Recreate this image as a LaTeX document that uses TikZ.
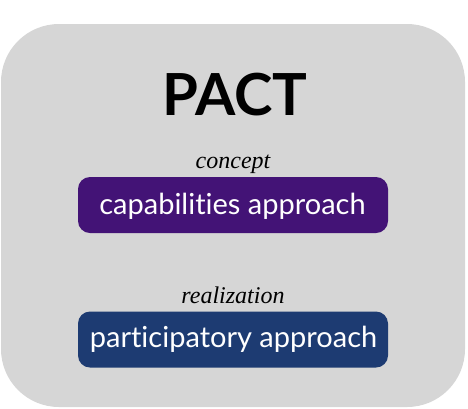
\documentclass[tikz,border=0pt]{standalone}
\usepackage{fontspec}
\setmainfont{Lato}[Ligatures=NoCommon]
\newfontfamily\labelserif{Liberation Serif}
\definecolor{panelgray}{HTML}{D6D6D6}
\definecolor{conceptpurple}{HTML}{431376}
\definecolor{realizeblue}{HTML}{1D3B72}
\tikzset{
  panel/.style={fill=panelgray, draw=none, rounded corners=58pt},
  pillbox/.style={draw=none, rounded corners=12pt, minimum width=310pt, minimum height=56pt, inner sep=0pt},
  pilltext/.style={text=white, font=\fontsize{29}{34}\selectfont, anchor=base, inner sep=0pt},
  caption/.style={font=\labelserif\itshape\fontsize{24}{28}\selectfont, anchor=base, inner sep=0pt},
}
\begin{document}
\begin{tikzpicture}[x=1pt,y=-1pt]
  \useasboundingbox (0,0) rectangle (468,408);
  \path[panel] (1,24) rectangle (465,407);
  \node[font=\bfseries\fontsize{58}{64}\selectfont, anchor=base, inner sep=0pt] (title) at (235,115) {PACT};
  \node[caption] (concept) at (233,168) {concept};
  \node[pillbox, fill=conceptpurple] (capbox) at (233,205) {};
  \node[pilltext] (captext) at (232.5,214) {capabilities approach};
  \node[caption] (realization) at (233,303) {realization};
  \node[pillbox, fill=realizeblue] (partbox) at (233,339.5) {};
  \node[pilltext] (parttext) at (233.5,347) {participatory approach};
\end{tikzpicture}
\end{document}
